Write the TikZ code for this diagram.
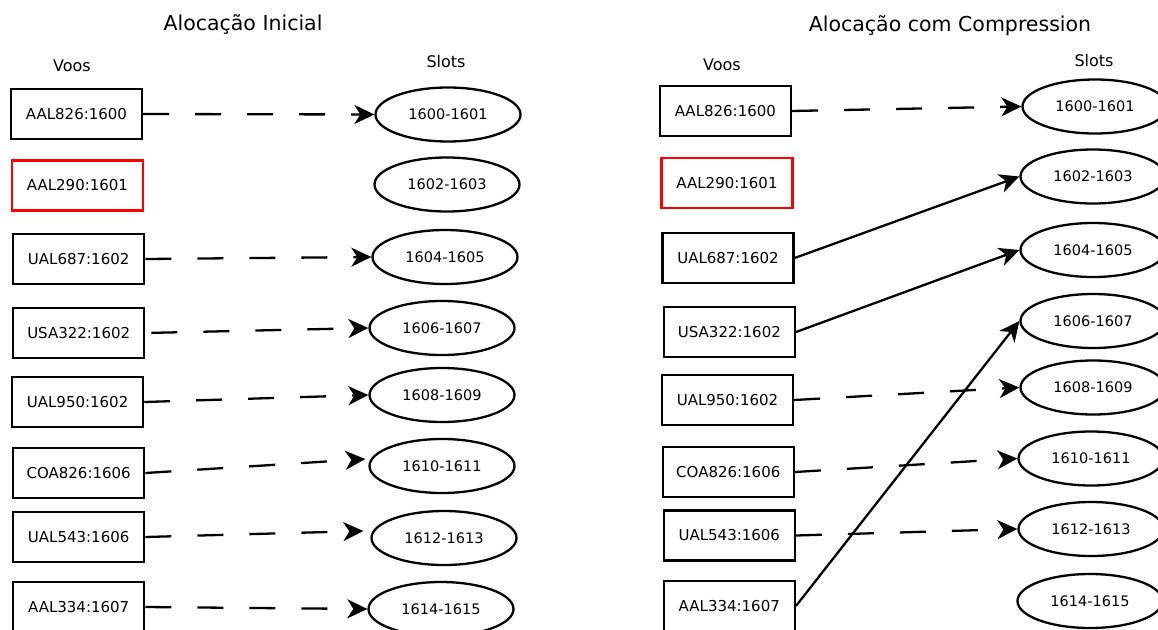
\documentclass[tikz,border=0pt]{standalone}
\usepackage{fontspec}
\setmainfont{DejaVu Sans}
\usetikzlibrary{arrows.meta,shapes.geometric}

\tikzset{
  voo/.style={draw, line width=2.3pt, rectangle, minimum width=131pt, minimum height=50pt,
    inner sep=0pt, font=\fontsize{15}{17}\selectfont},
  cancelado/.style={voo, draw=red},
  slot/.style={draw, line width=2.3pt, ellipse, minimum width=145pt, minimum height=54pt,
    inner sep=0pt, font=\fontsize{14.5}{17}\selectfont},
  titulo/.style={font=\fontsize{20.5}{24}\selectfont, inner sep=0pt},
  cabecalho/.style={font=\fontsize{16}{19}\selectfont, inner sep=0pt},
  liga/.style={line width=2.3pt, -{Stealth[length=20pt, width=19pt, inset=6pt]}},
  tracejada/.style={liga, dash pattern=on 26pt off 26pt},
}

\begin{document}
\begin{tikzpicture}[x=1pt, y=-1pt]
\useasboundingbox (0,0) rectangle (1158,629);
\clip (0,0) rectangle (1158,629);
\fill[white] (0,0) rectangle (1158,629);

% ---------- Alocacao inicial ----------
\node[titulo] (tituloA) at (243,25) {Alocação Inicial};
\node[cabecalho] (voosA) at (72,66) {Voos};
\node[cabecalho] (slotsA) at (446,62) {Slots};

\node[voo]       (a1) at (76.5,114)  {AAL826:1600};
\node[cancelado] (a2) at (77.5,185.5){AAL290:1601};
\node[voo]       (a3) at (78.7,259)  {UAL687:1602};
\node[voo]       (a4) at (78.7,333)  {USA322:1602};
\node[voo]       (a5) at (77.6,402)  {UAL950:1602};
\node[voo]       (a6) at (78.7,473)  {COA826:1606};
\node[voo]       (a7) at (78.7,537)  {UAL543:1606};
\node[voo]       (a8) at (78.7,607)  {AAL334:1607};

\node[slot] (s1) at (448,114.5) {1600-1601};
\node[slot] (s2) at (447,184.5) {1602-1603};
\node[slot] (s3) at (445,257)   {1604-1605};
\node[slot] (s4) at (442,328)   {1606-1607};
\node[slot] (s5) at (442,395)   {1608-1609};
\node[slot] (s6) at (442,466)   {1610-1611};
\node[slot] (s7) at (444,538)   {1612-1613};
\node[slot] (s8) at (441,609)   {1614-1615};

\draw[tracejada] (a1.east) -- (s1.west);
\draw[tracejada] (a3.east) -- (s3.west);
\draw[tracejada, shorten <=6pt] (a4.east) -- (s4.west);
\draw[tracejada] (a5.east) -- (s5.west);
\draw[tracejada] (a6.east) -- ([shift={(-3pt,7pt)}]s6.west);
\draw[tracejada] (a7.east) -- ([shift={(-7pt,7pt)}]s7.west);
\draw[tracejada] (a8.east) -- (s8.west);

% ---------- Alocacao com Compression ----------
\node[titulo] (tituloB) at (950,26) {Alocação com Compression};
\node[cabecalho] (voosB) at (722,65) {Voos};
\node[cabecalho] (slotsB) at (1094,61) {Slots};

\node[voo]       (b1) at (725.4,111) {AAL826:1600};
\node[cancelado] (b2) at (727,183)   {AAL290:1601};
\node[voo]       (b3) at (728,258)   {UAL687:1602};
\node[voo]       (b4) at (729.4,332) {USA322:1602};
\node[voo]       (b5) at (727.5,400) {UAL950:1602};
\node[voo]       (b6) at (728.3,472) {COA826:1606};
\node[voo]       (b7) at (729.3,535.5) {UAL543:1606};
\node[voo]       (b8) at (729.3,606) {AAL334:1607};

\node[slot] (t1) at (1095,106.5) {1600-1601};
\node[slot] (t2) at (1093,176.5) {1602-1603};
\node[slot] (t3) at (1093,250)   {1604-1605};
\node[slot] (t4) at (1093,321)   {1606-1607};
\node[slot] (t5) at (1093,387.5) {1608-1609};
\node[slot] (t6) at (1091,458.5) {1610-1611};
\node[slot] (t7) at (1091,529)   {1612-1613};
\node[slot] (t8) at (1090,601)   {1614-1615};

\draw[tracejada] (b1.east) -- (t1.west);
\draw[liga] (b3.east) -- (t2.west);
\draw[liga] (b4.east) -- (t3.west);
\draw[liga] (b8.east) -- (t4.west);
\draw[tracejada] (b5.east) -- (t5.west);
\draw[tracejada] (b6.east) -- (t6.west);
\draw[tracejada] (b7.east) -- (t7.west);
\end{tikzpicture}
\end{document}
